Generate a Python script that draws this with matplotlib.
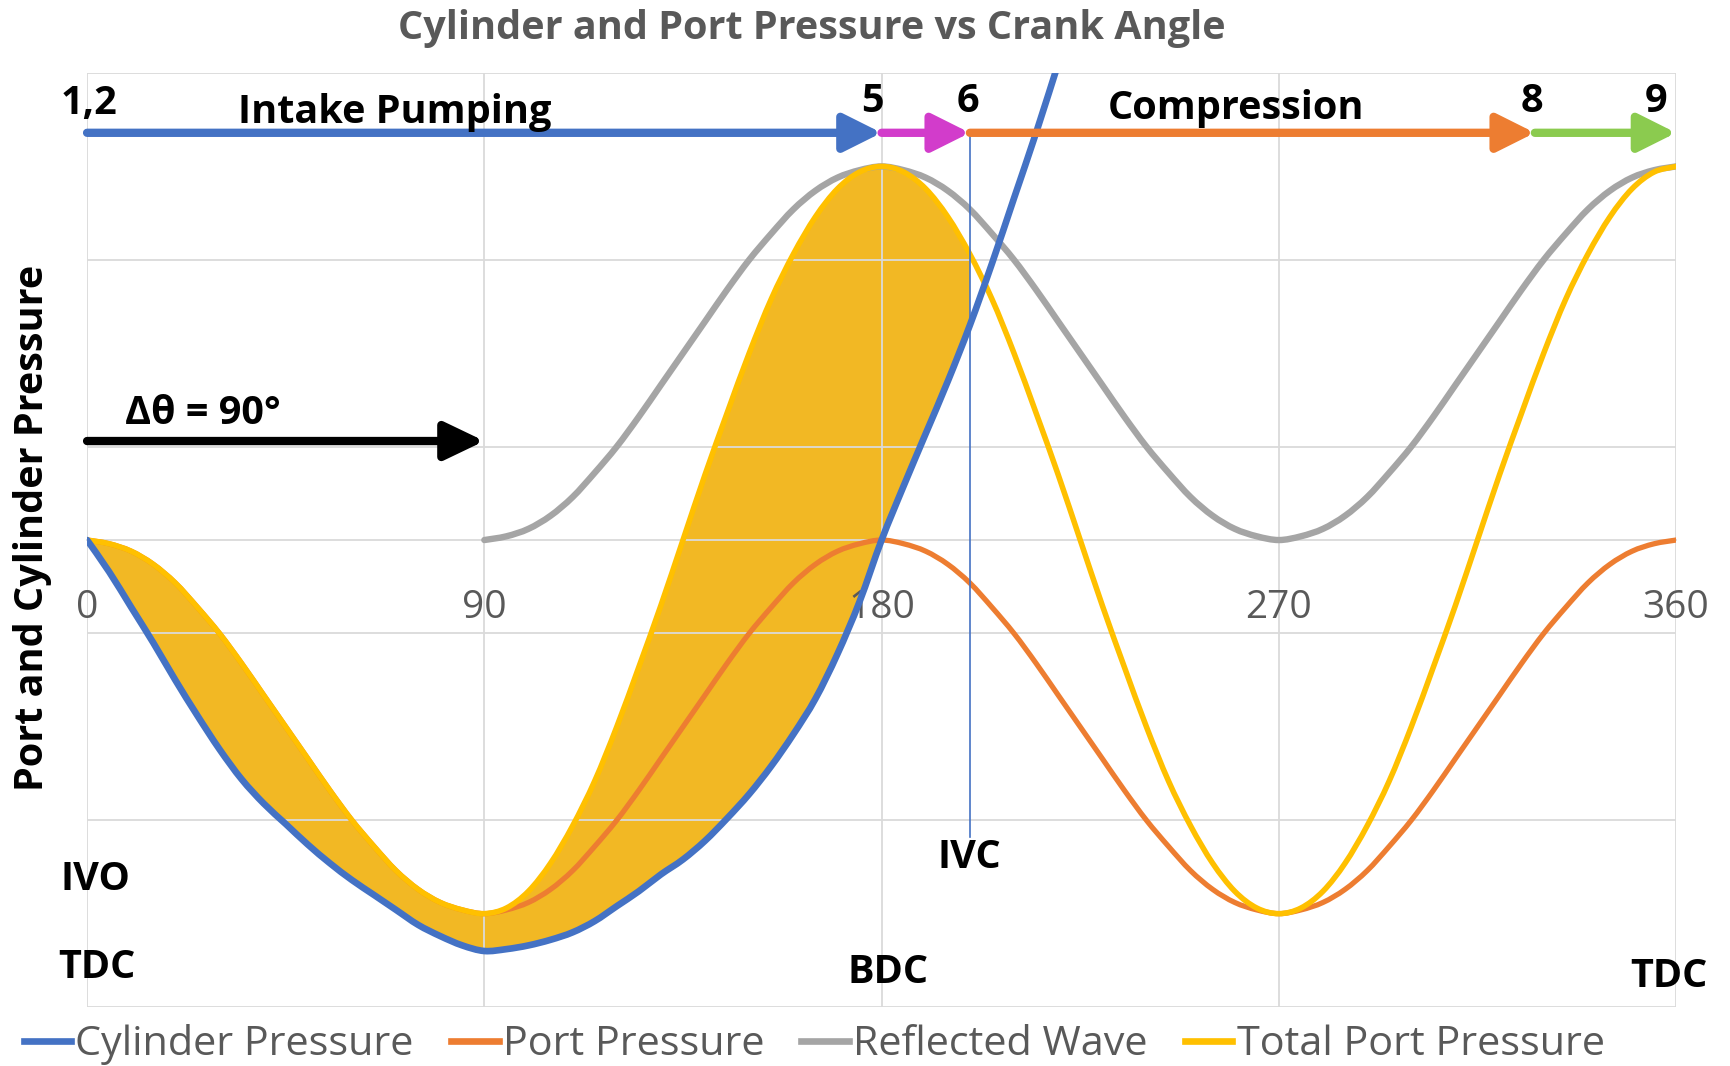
import matplotlib
matplotlib.use("Agg")
import matplotlib.pyplot as plt
import numpy as np
from matplotlib.lines import Line2D
from matplotlib.path import Path
from matplotlib.patches import PathPatch

plt.rcParams['font.family'] = ['Open Sans', 'DejaVu Sans']

# crank angle, degrees (5 degree steps)
theta = [0, 5, 10, 15, 20, 25, 30, 35, 40, 45, 50, 55, 60, 65, 70, 75, 80, 85, 90,
         95, 100, 105, 110, 115, 120, 125, 130, 135, 140, 145, 150, 155, 160, 165, 170, 175, 180,
         185, 190, 195, 200, 205, 210, 215, 220, 225, 230, 235, 240, 245, 250, 255, 260, 265, 270,
         275, 280, 285, 290, 295, 300, 305, 310, 315, 320, 325, 330, 335, 340, 345, 350, 355, 360]

port = [0.00, -0.02, -0.06, -0.13, -0.23, -0.36, -0.50, -0.66, -0.83, -1.00, -1.17, -1.34, -1.50, -1.64, -1.77, -1.87, -1.94, -1.98, -2.00,
        -1.98, -1.94, -1.87, -1.77, -1.64, -1.50, -1.34, -1.17, -1.00, -0.83, -0.66, -0.50, -0.36, -0.23, -0.13, -0.06, -0.02, 0.00,
        -0.02, -0.06, -0.13, -0.23, -0.36, -0.50, -0.66, -0.83, -1.00, -1.17, -1.34, -1.50, -1.64, -1.77, -1.87, -1.94, -1.98, -2.00,
        -1.98, -1.94, -1.87, -1.77, -1.64, -1.50, -1.34, -1.17, -1.00, -0.83, -0.66, -0.50, -0.36, -0.23, -0.13, -0.06, -0.02, 0.00]

# reflected wave arrives at 90 deg
theta_refl = theta[18:]
reflected = [0.00, 0.02, 0.06, 0.13, 0.23, 0.36, 0.50, 0.66, 0.83, 1.00, 1.17, 1.34, 1.50, 1.64, 1.77, 1.87, 1.94, 1.98, 2.00,
             1.98, 1.94, 1.87, 1.77, 1.64, 1.50, 1.34, 1.17, 1.00, 0.83, 0.66, 0.50, 0.36, 0.23, 0.13, 0.06, 0.02, 0.00,
             0.02, 0.06, 0.13, 0.23, 0.36, 0.50, 0.66, 0.83, 1.00, 1.17, 1.34, 1.50, 1.64, 1.77, 1.87, 1.94, 1.98, 2.00]

total = [0.00, -0.02, -0.06, -0.13, -0.23, -0.36, -0.50, -0.66, -0.83, -1.00, -1.17, -1.34, -1.50, -1.64, -1.77, -1.87, -1.94, -1.98, -2.00,
         -1.97, -1.88, -1.73, -1.53, -1.29, -1.00, -0.68, -0.35, 0.00, 0.35, 0.68, 1.00, 1.29, 1.53, 1.73, 1.88, 1.97, 2.00,
         1.97, 1.88, 1.73, 1.53, 1.29, 1.00, 0.68, 0.35, 0.00, -0.35, -0.68, -1.00, -1.29, -1.53, -1.73, -1.88, -1.97, -2.00,
         -1.97, -1.88, -1.73, -1.53, -1.29, -1.00, -0.68, -0.35, 0.00, 0.35, 0.68, 1.00, 1.29, 1.53, 1.73, 1.88, 1.97, 2.00]

# cylinder pressure, runs off the top during compression
theta_cyl = theta[:45]
cylinder = [0.00, -0.17, -0.36, -0.55, -0.75, -0.94, -1.12, -1.28, -1.41, -1.52, -1.63, -1.73, -1.82, -1.90, -1.98, -2.06, -2.12, -2.17, -2.20,
            -2.19, -2.17, -2.14, -2.10, -2.04, -1.96, -1.88, -1.79, -1.71, -1.61, -1.49, -1.36, -1.21, -1.04, -0.85, -0.61, -0.33, 0.00,
            0.29, 0.57, 0.85, 1.15, 1.48, 1.83, 2.18, 2.55]

ivc = 200
xticks = [0, 90, 180, 270, 360]
ygrid = [-2.5, -1.5, -0.5, 0.5, 1.5, 2.5]

# event arrows along the top: (start, end, colour)
events = [(0, 180, '#4472C4'), (180, ivc, '#D23CCB'), (ivc, 328, '#ED7D31'), (328, 360, '#8BCB4F')]
event_y = 2.18

labels = [("1,2", 0.5, 2.335), ("Intake Pumping", 69.6, 2.29), ("5", 178, 2.35), ("6", 199.5, 2.35),
          ("Compression", 260.3, 2.31), ("8", 327.3, 2.35), ("9", 355.5, 2.35),
          ("IVO", 2, -1.815), ("TDC", 2.3, -2.29), ("IVC", 199.8, -1.70),
          ("BDC", 181.5, -2.315), ("TDC", 358.3, -2.335)]


def smooth(xs, ys):
    # smoothed line like Excel: catmull-rom segments as cubic beziers
    pts = np.column_stack([xs, ys]).astype(float)
    ext = np.vstack([pts[0], pts, pts[-1]])
    verts = [pts[0]]
    codes = [Path.MOVETO]
    for i in range(len(pts) - 1):
        p0, p1, p2, p3 = ext[i], ext[i + 1], ext[i + 2], ext[i + 3]
        verts += [p1 + (p2 - p0) / 6, p2 - (p3 - p1) / 6, p2]
        codes += [Path.CURVE4] * 3
    return verts, codes


def curve(ax, xs, ys, color, lw, z):
    v, c = smooth(xs, ys)
    ax.add_patch(PathPatch(Path(v, c), fc='none', ec=color, lw=lw, capstyle='round',
                           joinstyle='round', zorder=z))


fig = plt.figure(figsize=(17.31, 10.66), dpi=100)
ax = fig.add_axes([0.0503, 0.0553, 0.918, 0.8762])

# shaded area between total port and cylinder pressure until IVC
n = theta.index(ivc) + 1
v1, c1 = smooth(theta[:n], total[:n])
v2, c2 = smooth(theta[:n][::-1], cylinder[:n][::-1])
c2[0] = Path.LINETO
ax.add_patch(PathPatch(Path(v1 + v2 + [v1[0]], c1 + c2 + [Path.CLOSEPOLY]),
                       fc='#F2B824', ec='none', zorder=1))

curve(ax, theta_refl, reflected, '#A5A5A5', 4.6, 3)
curve(ax, theta, port, '#ED7D31', 3.8, 4)
curve(ax, theta, total, '#FFC000', 4.0, 5)
curve(ax, theta_cyl, cylinder, '#4472C4', 4.8, 6)

ax.plot([ivc, ivc], [event_y, -1.59], color='#4472C4', lw=1.2, zorder=6)

for a, b, c in events:
    ax.annotate('', xy=(b, event_y), xytext=(a, event_y),
                arrowprops=dict(arrowstyle='-|>,head_length=2.3,head_width=1.15', color=c,
                                lw=6, shrinkA=0, shrinkB=0, mutation_scale=10), zorder=7)

ax.annotate('', xy=(90, 0.53), xytext=(0, 0.53),
            arrowprops=dict(arrowstyle='-|>,head_length=2.4,head_width=1.15', color='black',
                            lw=6, shrinkA=0, shrinkB=0, mutation_scale=10), zorder=7)
ax.text(26.3, 0.675, "\u0394\u03b8 = 90\u00b0", fontsize=28.5, fontweight='bold', ha='center', va='center')

for s, x, y in labels:
    ax.text(x, y, s, fontsize=28.5, fontweight='bold', ha='center', va='center', zorder=8)

ax.set_xlim(0, 360)
ax.set_ylim(-2.5, 2.5)
ax.set_xticks(xticks)
ax.set_xticklabels([str(t) for t in xticks])
ax.set_yticks(ygrid)
ax.set_yticklabels([])
ax.grid(True, color='#DADADA', lw=1.3)
for sp in ['left', 'right', 'top']:
    ax.spines[sp].set_visible(False)
ax.spines['bottom'].set_position(('data', 0))
ax.spines['bottom'].set_color('#DADADA')
ax.spines['bottom'].set_linewidth(1.3)
ax.tick_params(axis='both', length=0)
ax.tick_params(axis='x', labelsize=28, labelcolor='#595959', pad=35.5)

fig.text(0.4687, 0.973, "Cylinder and Port Pressure vs Crank Angle", fontsize=28.5,
         fontweight='bold', color='#595959', ha='center', va='center')
fig.text(0.019, 0.505, "Port and Cylinder Pressure", fontsize=28.5, fontweight='bold',
         rotation=90, ha='center', va='center')

order = ['Cylinder Pressure', 'Port Pressure', 'Reflected Wave', 'Total Port Pressure']
cols = {'Cylinder Pressure': '#4472C4', 'Port Pressure': '#ED7D31',
        'Reflected Wave': '#A5A5A5', 'Total Port Pressure': '#FFC000'}
handles = [Line2D([], [], color=cols[k], lw=4.8) for k in order]
leg = fig.legend(handles, order, loc='center', bbox_to_anchor=(0.4703, 0.02), ncol=4,
                 frameon=False, fontsize=29.8, handlelength=1.15, handletextpad=0.1,
                 columnspacing=0.9, labelcolor='#595959')

fig.savefig('out.png', dpi=100)
